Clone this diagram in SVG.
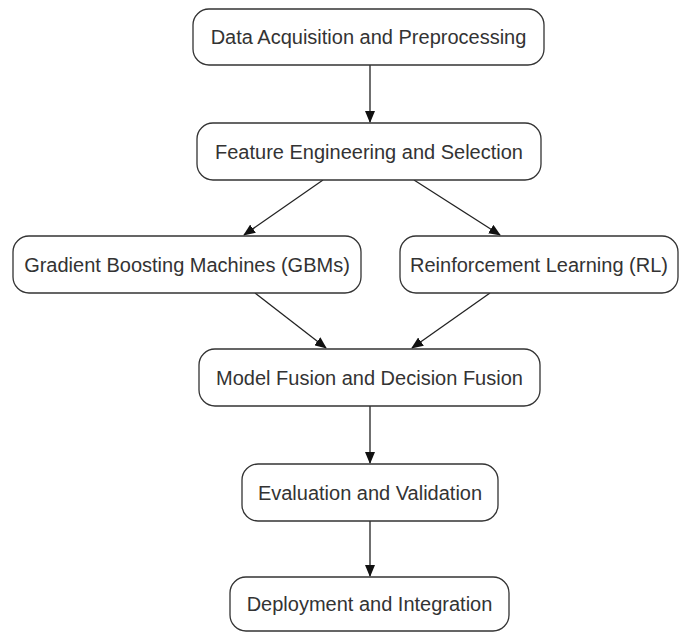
<svg xmlns="http://www.w3.org/2000/svg" width="680" height="632" viewBox="0 0 680 632">
<defs>
<style>
.n rect{fill:#fff;stroke:#333;stroke-width:1.3}
.n text{font-family:"Liberation Sans",Arial,sans-serif;font-size:20px;fill:#333;text-anchor:middle;dominant-baseline:central}
.e line{stroke:#222;stroke-width:1.3;marker-end:url(#ah)}
</style>
<marker id="ah" viewBox="0 0 12 10" refX="11" refY="5" markerWidth="12" markerHeight="10" markerUnits="userSpaceOnUse" orient="auto"><path d="M0,0L12,5L0,10z" fill="#111"/></marker>
</defs>
<rect width="680" height="632" fill="#fff"/>
<g class="e">
<line x1="370" y1="65" x2="370" y2="122"/>
<line x1="323" y1="180" x2="244" y2="235"/>
<line x1="414" y1="180" x2="500" y2="235"/>
<line x1="255" y1="293" x2="326" y2="348"/>
<line x1="490" y1="293" x2="412" y2="348"/>
<line x1="370" y1="406" x2="370" y2="463"/>
<line x1="370" y1="521" x2="370" y2="576"/>
</g>
<g id="n1" class="n"><rect x="193" y="9" width="351" height="56" rx="16"/><text x="368.5" y="37">Data Acquisition and Preprocessing</text></g>
<g id="n2" class="n"><rect x="197" y="123" width="344" height="57" rx="16"/><text x="369" y="151.5">Feature Engineering and Selection</text></g>
<g id="n3" class="n"><rect x="13" y="236" width="348" height="57" rx="16"/><text x="187" y="264.5">Gradient Boosting Machines (GBMs)</text></g>
<g id="n4" class="n"><rect x="400" y="236" width="278" height="57" rx="16"/><text x="539" y="264.5">Reinforcement Learning (RL)</text></g>
<g id="n5" class="n"><rect x="199" y="349" width="341" height="57" rx="16"/><text x="369.5" y="377.5">Model Fusion and Decision Fusion</text></g>
<g id="n6" class="n"><rect x="242" y="464" width="256" height="57" rx="16"/><text x="370" y="492.5">Evaluation and Validation</text></g>
<g id="n7" class="n"><rect x="230" y="577" width="279" height="54" rx="16"/><text x="369.5" y="604">Deployment and Integration</text></g>
</svg>
